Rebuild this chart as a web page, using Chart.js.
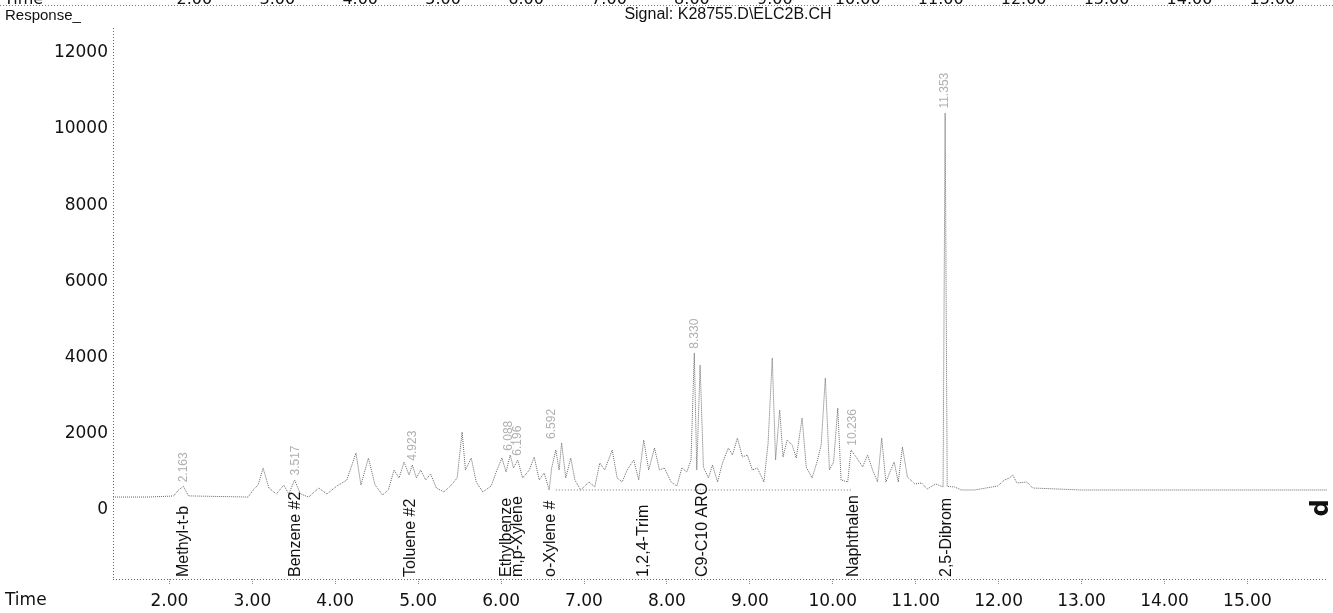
<!DOCTYPE html>
<html>
<head>
<meta charset="utf-8">
<script src="https://cdn.jsdelivr.net/npm/chart.js@4.4.1/dist/chart.umd.min.js"></script>
<style>
  html, body { margin: 0; padding: 0; background: #fff; }
  #wrap { position: relative; width: 1333px; height: 613px; }
</style>
</head>
<body>
<div id="wrap"><canvas id="chrom" width="1333" height="613"></canvas></div>
<script>
// retention time (min) and detector response
const times = [
    1.32, 1.75, 2.05, 2.11, 2.17, 2.23, 2.95, 3.01, 3.07, 3.13, 3.20, 3.29, 3.38, 3.44, 3.51, 3.58,
    3.68, 3.80, 3.90, 4.02, 4.14, 4.25, 4.31, 4.40, 4.48, 4.57, 4.64, 4.71, 4.77, 4.83, 4.89, 4.93,
    4.98, 5.03, 5.09, 5.15, 5.22, 5.31, 5.39, 5.47, 5.53, 5.57, 5.64, 5.70, 5.78, 5.88, 5.95, 6.01,
    6.06, 6.11, 6.15, 6.20, 6.26, 6.34, 6.40, 6.46, 6.52, 6.58, 6.61, 6.66, 6.70, 6.73, 6.78, 6.84,
    6.89, 6.96, 7.06, 7.13, 7.19, 7.25, 7.34, 7.40, 7.46, 7.52, 7.60, 7.66, 7.72, 7.78, 7.85, 7.91,
    7.97, 8.05, 8.12, 8.18, 8.24, 8.29, 8.33, 8.36, 8.40, 8.44, 8.50, 8.55, 8.61, 8.67, 8.74, 8.79,
    8.85, 8.91, 8.97, 9.03, 9.09, 9.17, 9.22, 9.27, 9.31, 9.36, 9.40, 9.45, 9.51, 9.56, 9.63, 9.68,
    9.75, 9.81, 9.86, 9.91, 9.96, 10.01, 10.06, 10.10, 10.18, 10.22, 10.29, 10.36, 10.42, 10.48, 10.54, 10.59,
    10.64, 10.70, 10.74, 10.79, 10.84, 10.90, 10.99, 11.07, 11.14, 11.24, 11.33, 11.355, 11.38, 11.47, 11.55, 11.71,
    11.99, 12.07, 12.13, 12.17, 12.22, 12.34, 12.41, 13.00, 14.00, 15.00, 15.96
];
const response = [
    340, 340, 368, 525, 620, 370, 340, 525, 656, 1100, 577, 420, 656, 420, 788, 420,
    340, 577, 420, 630, 788, 1496, 656, 1365, 656, 394, 525, 1050, 840, 1260, 919, 1181,
    840, 1050, 788, 945, 577, 473, 630, 840, 2048, 1050, 1365, 735, 473, 630, 1050, 1365,
    998, 1444, 1103, 1313, 840, 1050, 1391, 788, 971, 525, 1103, 1575, 1050, 1759, 840, 1365,
    788, 525, 735, 604, 1234, 1050, 1575, 840, 735, 1050, 1313, 788, 1838, 1050, 1628, 1050,
    1103, 735, 630, 1103, 998, 1313, 4121, 1050, 3806, 1129, 840, 1181, 735, 1234, 1628, 1444,
    1890, 1391, 1444, 1050, 1103, 735, 1759, 3990, 1313, 2625, 1391, 1838, 1706, 1365, 2415, 1129,
    840, 1260, 1706, 3465, 1050, 1260, 2678, 788, 735, 1575, 1365, 1129, 1444, 1050, 735, 1890,
    735, 1050, 1260, 735, 1654, 866, 683, 709, 551, 683, 604, 10420, 620, 604, 525, 525,
    630, 788, 840, 920, 709, 735, 577, 525, 525, 525, 525
];

// drawn integration baseline under the aromatics hump
const baseTimes = [6.66, 10.22];
const baseResponse = [525, 525];

// compound names printed under the trace
const compoundNames = ['Methyl-t-b', 'Benzene #2', 'Toluene #2', 'Ethylbenze', 'm,p-Xylene',
    'o-Xylene #', '1,2,4-Trim', 'C9-C10 ARO', 'Naphthalen', '2,5-Dibrom'];
const compoundTimes = [2.17, 3.52, 4.91, 6.07, 6.20, 6.60, 7.72, 8.43, 10.25, 11.37];

// faint retention time tags above peaks
const rtTags = ['2.163', '3.517', '4.923', '6.088', '6.196', '6.592', '8.330', '10.236', '11.353'];
const rtTimes = [2.17, 3.52, 4.93, 6.09, 6.20, 6.61, 8.33, 10.24, 11.355];
const rtResponse = [620, 800, 1190, 1450, 1320, 1760, 4130, 1580, 10430];

const xTicks = [2, 3, 4, 5, 6, 7, 8, 9, 10, 11, 12, 13, 14, 15];
const yTicks = [0, 2000, 4000, 6000, 8000, 10000, 12000];

const signalTitle = 'Signal: K28755.D\\ELC2B.CH';

const tracePoints = times.map((t, i) => ({ x: t, y: response[i] }));
const basePoints = baseTimes.map((t, i) => ({ x: t, y: baseResponse[i] }));

// dotted axes, header, compound names and tags, drawn against the chart scales
const annotations = {
    id: 'annotations',
    beforeDatasetsDraw(chart) {
        const ctx = chart.ctx;
        const area = chart.chartArea;
        ctx.save();
        ctx.strokeStyle = '#666';
        ctx.lineWidth = 1;
        ctx.setLineDash([1, 2]);
        ctx.beginPath();
        ctx.moveTo(area.left + 0.5, area.top);
        ctx.lineTo(area.left + 0.5, area.bottom);
        ctx.moveTo(area.left, area.bottom + 0.5);
        ctx.lineTo(area.right, area.bottom + 0.5);
        ctx.stroke();
        ctx.restore();
    },
    afterDraw(chart) {
        const ctx = chart.ctx;
        const xs = chart.scales.x;
        const ys = chart.scales.y;
        ctx.save();

        // bottom edge of the previous page's axis, cut off at the top
        ctx.fillStyle = '#111';
        ctx.font = '16px "DejaVu Sans"';
        ctx.textBaseline = 'alphabetic';
        ctx.textAlign = 'left';
        ctx.fillText('Time', 4, 4);
        ctx.textAlign = 'center';
        xTicks.forEach(v => ctx.fillText(v.toFixed(2), xs.getPixelForValue(v) + 25, 4));
        ctx.strokeStyle = '#777';
        ctx.setLineDash([1, 2]);
        ctx.beginPath();
        ctx.moveTo(0, 5.5);
        ctx.lineTo(1333, 5.5);
        ctx.stroke();
        ctx.setLineDash([]);

        ctx.textBaseline = 'middle';
        ctx.textAlign = 'left';
        ctx.font = '15px "Liberation Sans"';
        ctx.fillText('Response_', 5, 16);
        ctx.textAlign = 'center';
        ctx.font = '16px "Liberation Sans"';
        ctx.fillText(signalTitle, 728, 15);
        ctx.textAlign = 'left';
        ctx.font = '17px "DejaVu Sans"';
        ctx.fillText('Time', 5, 601);

        // compound names, rotated, reading upward from the axis
        ctx.font = '16px "Liberation Sans"';
        ctx.fillStyle = '#111';
        compoundNames.forEach((name, i) => {
            ctx.save();
            ctx.translate(xs.getPixelForValue(compoundTimes[i]), 577);
            ctx.rotate(-Math.PI / 2);
            ctx.fillText(name, 0, 0);
            ctx.restore();
        });

        // faint retention time tags
        ctx.font = '12px "Liberation Sans"';
        ctx.fillStyle = '#b0b0b0';
        rtTags.forEach((tag, i) => {
            ctx.save();
            ctx.translate(xs.getPixelForValue(rtTimes[i]), ys.getPixelForValue(rtResponse[i]) - 4);
            ctx.rotate(-Math.PI / 2);
            ctx.fillText(tag, 0, 0);
            ctx.restore();
        });

        // handwritten mark at the right edge
        ctx.fillStyle = '#111';
        ctx.font = 'bold 24px "DejaVu Sans"';
        ctx.save();
        ctx.translate(1322, 508);
        ctx.rotate(-Math.PI / 2);
        ctx.textAlign = 'center';
        ctx.fillText('d', 0, 0);
        ctx.restore();

        ctx.restore();
    }
};

const config = {
    type: 'line',
    data: {
        datasets: [{
            data: tracePoints,
            borderColor: '#666',
            borderWidth: 1,
            borderDash: [1, 1],
            pointRadius: 0,
            tension: 0
        }, {
            data: basePoints,
            borderColor: '#777',
            borderWidth: 1,
            borderDash: [1, 2],
            pointRadius: 0
        }]
    },
    options: {
        responsive: false,
        animation: false,
        layout: { padding: { top: 28, right: 6, left: 0, bottom: 0 } },
        plugins: {
            legend: { display: false },
            tooltip: { enabled: false }
        },
        scales: {
            x: {
                type: 'linear',
                min: 1.32,
                max: 15.96,
                afterBuildTicks: scale => { scale.ticks = xTicks.map(v => ({ value: v })); },
                afterFit: scale => { scale.height = 34; },
                ticks: {
                    color: '#111',
                    font: { family: 'DejaVu Sans', size: 17 },
                    padding: 6,
                    maxRotation: 0,
                    autoSkip: false,
                    callback: v => v.toFixed(2)
                },
                grid: {
                    drawOnChartArea: false,
                    drawTicks: true,
                    tickLength: 6,
                    tickColor: '#888',
                    tickBorderDash: [1, 1]
                },
                border: { display: false }
            },
            y: {
                min: -1811,
                max: 12650,
                afterBuildTicks: scale => { scale.ticks = yTicks.map(v => ({ value: v })); },
                afterFit: scale => { scale.width = 113; },
                ticks: {
                    color: '#111',
                    font: { family: 'DejaVu Sans', size: 17 },
                    padding: -3,
                    callback: v => String(v)
                },
                grid: { display: false },
                border: { display: false }
            }
        }
    },
    plugins: [annotations]
};

const ctx = document.getElementById('chrom').getContext('2d');
new Chart(ctx, config);
</script>
</body>
</html>
